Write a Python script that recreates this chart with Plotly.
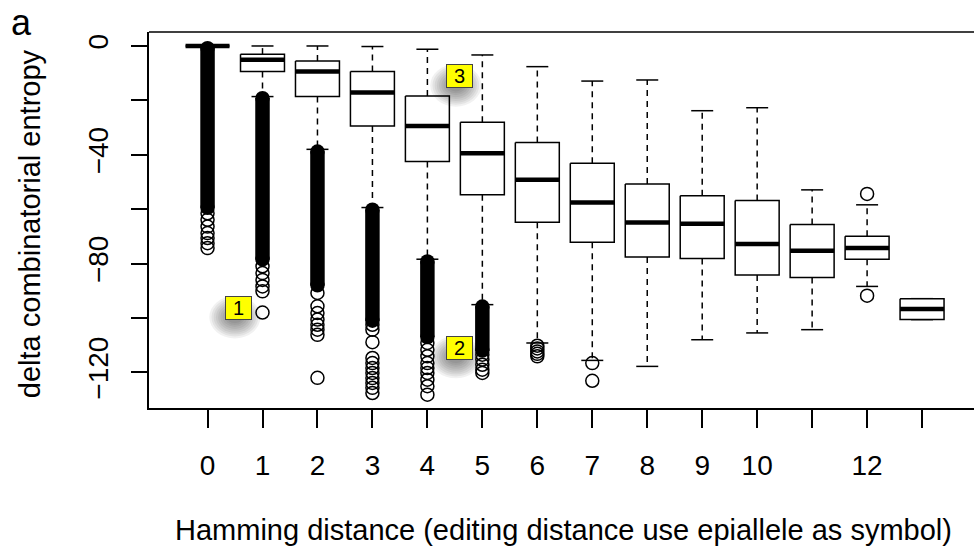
import plotly.graph_objects as go

# Hamming distance groups
categories = list(range(14))
tick_labels = ["0", "1", "2", "3", "4", "5", "6", "7", "8", "9", "10", "", "12", ""]

# Box statistics per group (delta combinatorial entropy)
upper_whisker = [0, 0, 0, -0.2, -1.2, -3.3, -7.6, -12.9, -12.5, -23.8, -22.7, -52.9, -58.4, -92.9]
q3 = [0, -3.0, -5.5, -9.4, -18.4, -28.0, -35.5, -43.1, -50.7, -55.1, -56.8, -65.6, -70.0, -92.9]
median = [0, -5.1, -9.4, -17.1, -29.4, -39.4, -49.2, -57.5, -64.9, -65.4, -72.8, -75.3, -74.3, -96.7]
q1 = [0, -9.4, -18.6, -29.4, -42.5, -54.7, -64.8, -72.2, -77.6, -78.1, -84.2, -85.1, -78.4, -100.6]
lower_whisker = [0, -18.6, -38.0, -59.4, -78.4, -95.1, -109.2, -115.6, -117.8, -108.0, -105.5, -104.3, -88.4, -100.6]

# Dense runs of outliers (first and last point of each unbroken run)
band_top = [-0.8, -19.2, -38.8, -60.2, -79.2, -95.8, None, None, None, None, None, None, None, None]
band_bottom = [-59.5, -78.5, -88.0, -101.0, -107.0, -112.0, None, None, None, None, None, None, None, None]

# Individually visible outliers
outliers = [
    [-61.5, -63.9, -66.4, -68.8, -70.6, -72.5, -74.3],
    [-81.0, -83.5, -86.0, -88.4, -90.2, -98.0],
    [-90.8, -95.7, -98.2, -100.6, -102.5, -104.3, -106.2, -122.0],
    [-102.5, -104.3, -108.9, -114.7, -116.6, -118.4, -120.2, -122.1, -123.9, -125.7, -127.6],
    [-109.2, -111.7, -114.1, -116.6, -118.4, -120.2, -122.7, -125.1, -128.2],
    [-113.5, -115.3, -117.2, -119.0, -120.2],
    [-110.2, -111.2, -112.3, -113.2, -114.1],
    [-116.6, -123.1],
    [], [], [], [],
    [-54.4, -91.8],
    [],
]

# Numbered callouts
callout_text = ["1", "2", "3"]
callout_x = [0.57, 4.59, 4.59]
callout_y = [-96.4, -111.1, -11.2]

FONT = "Liberation Sans, Arial, Helvetica, sans-serif"
BOX_HALF = 0.4
CAP_HALF = 0.2
LW = 1.5

fig = go.Figure()

# dashed whiskers
wx, wy = [], []
for c, hi, top, bot, lo in zip(categories, upper_whisker, q3, q1, lower_whisker):
    if hi > top:
        wx += [c, c, None]
        wy += [top, hi, None]
    if lo < bot:
        wx += [c, c, None]
        wy += [bot, lo, None]
fig.add_trace(go.Scatter(x=wx, y=wy, mode="lines", line=dict(color="black", width=LW, dash="6px,5px"),
                         hoverinfo="skip", showlegend=False))

# whisker caps
cx, cy = [], []
for c, hi, lo in zip(categories, upper_whisker, lower_whisker):
    cx += [c - CAP_HALF, c + CAP_HALF, None, c - CAP_HALF, c + CAP_HALF, None]
    cy += [hi, hi, None, lo, lo, None]
fig.add_trace(go.Scatter(x=cx, y=cy, mode="lines", line=dict(color="black", width=LW),
                         hoverinfo="skip", showlegend=False))

# boxes
for c, top, bot in zip(categories, q3, q1):
    fig.add_trace(go.Scatter(
        x=[c - BOX_HALF, c + BOX_HALF, c + BOX_HALF, c - BOX_HALF, c - BOX_HALF],
        y=[top, top, bot, bot, top],
        mode="lines", fill="toself", fillcolor="white",
        line=dict(color="black", width=LW), hoverinfo="skip", showlegend=False))

# medians
mx, my = [], []
for c, m in zip(categories, median):
    mx += [c - BOX_HALF, c + BOX_HALF, None]
    my += [m, m, None]
fig.add_trace(go.Scatter(x=mx, y=my, mode="lines", line=dict(color="black", width=4.5),
                         hoverinfo="skip", showlegend=False))

# dense outlier runs: solid columns of overlapping circles
for c, t, b in zip(categories, band_top, band_bottom):
    if t is None:
        continue
    fig.add_trace(go.Scatter(x=[c, c], y=[t, b], mode="lines+markers",
                             line=dict(color="black", width=14.5),
                             marker=dict(symbol="circle", size=14.5, color="black", line=dict(width=0)),
                             hoverinfo="skip", showlegend=False))

# single outliers (open circles)
ox, oy = [], []
for c, vals in zip(categories, outliers):
    ox += [c] * len(vals)
    oy += vals
fig.add_trace(go.Scatter(x=ox, y=oy, mode="markers",
                         marker=dict(symbol="circle-open", size=13, color="black",
                                     line=dict(color="black", width=LW)),
                         hoverinfo="skip", showlegend=False))

# callouts with soft drop shadow (stacked translucent ellipses)
shapes = []
for x, y in zip(callout_x, callout_y):
    for k in range(9):
        rx = 8 + k * 2.2
        ry = 6 + k * 1.9
        shapes.append(dict(type="circle", xref="x", yref="y", xsizemode="pixel", ysizemode="pixel",
                           xanchor=x, yanchor=y,
                           x0=-4 - rx, x1=-4 + rx,
                           y0=-9 - ry, y1=-9 + ry,
                           line=dict(width=0), fillcolor="rgba(0,0,0,0.055)", layer="above"))
# plot frame (top edge)
shapes.append(dict(type="line", xref="paper", yref="paper", x0=0, x1=1, y0=1, y1=1,
                   line=dict(color="black", width=LW)))

annotations = []
for t, x, y in zip(callout_text, callout_x, callout_y):
    annotations.append(dict(x=x, y=y, xref="x", yref="y", text=t, showarrow=False,
                            font=dict(family=FONT, size=20, color="black"),
                            bgcolor="#FFFF00", bordercolor="#444444", borderwidth=1,
                            width=25, height=22, borderpad=0))

annotations += [
    dict(text="delta combinatorial entropy", textangle=-90, xref="paper", yref="paper",
         x=-0.145, y=0.49, xanchor="center", yanchor="middle", showarrow=False,
         font=dict(family=FONT, size=29, color="black")),
    dict(text="Hamming distance (editing distance use epiallele as symbol)", xref="paper", yref="paper",
         x=0.5024, y=-0.3245, xanchor="center", yanchor="middle", showarrow=False,
         font=dict(family=FONT, size=29, color="black")),
    dict(text="a", xref="paper", yref="paper", x=-0.154, y=1.0851, xanchor="center", yanchor="top",
         showarrow=False, font=dict(family=FONT, size=36, color="black")),
]

fig.update_layout(
    width=974, height=550,
    margin=dict(l=149, r=0, t=32, b=142),
    paper_bgcolor="white", plot_bgcolor="white",
    shapes=shapes, annotations=annotations,
    xaxis=dict(range=[-1.065, 13.945], tickvals=categories, ticktext=tick_labels,
               ticks="outside", ticklen=18, tickwidth=LW, tickcolor="black",
               showline=True, linecolor="black", linewidth=LW,
               showgrid=False, zeroline=False, ticklabelstandoff=14,
               tickfont=dict(family=FONT, size=28, color="black")),
    yaxis=dict(range=[-133.1, 5.14], tickvals=[0, -20, -40, -60, -80, -100, -120],
               ticktext=["0", "", "\u221240", "", "\u221280", "", "\u2212120"],
               tickangle=-90, ticks="outside", ticklen=16, tickwidth=LW, tickcolor="black",
               showline=True, linecolor="black", linewidth=LW,
               showgrid=False, zeroline=False, ticklabelstandoff=12,
               tickfont=dict(family=FONT, size=28, color="black")),
)

fig.write_html("out.html")
